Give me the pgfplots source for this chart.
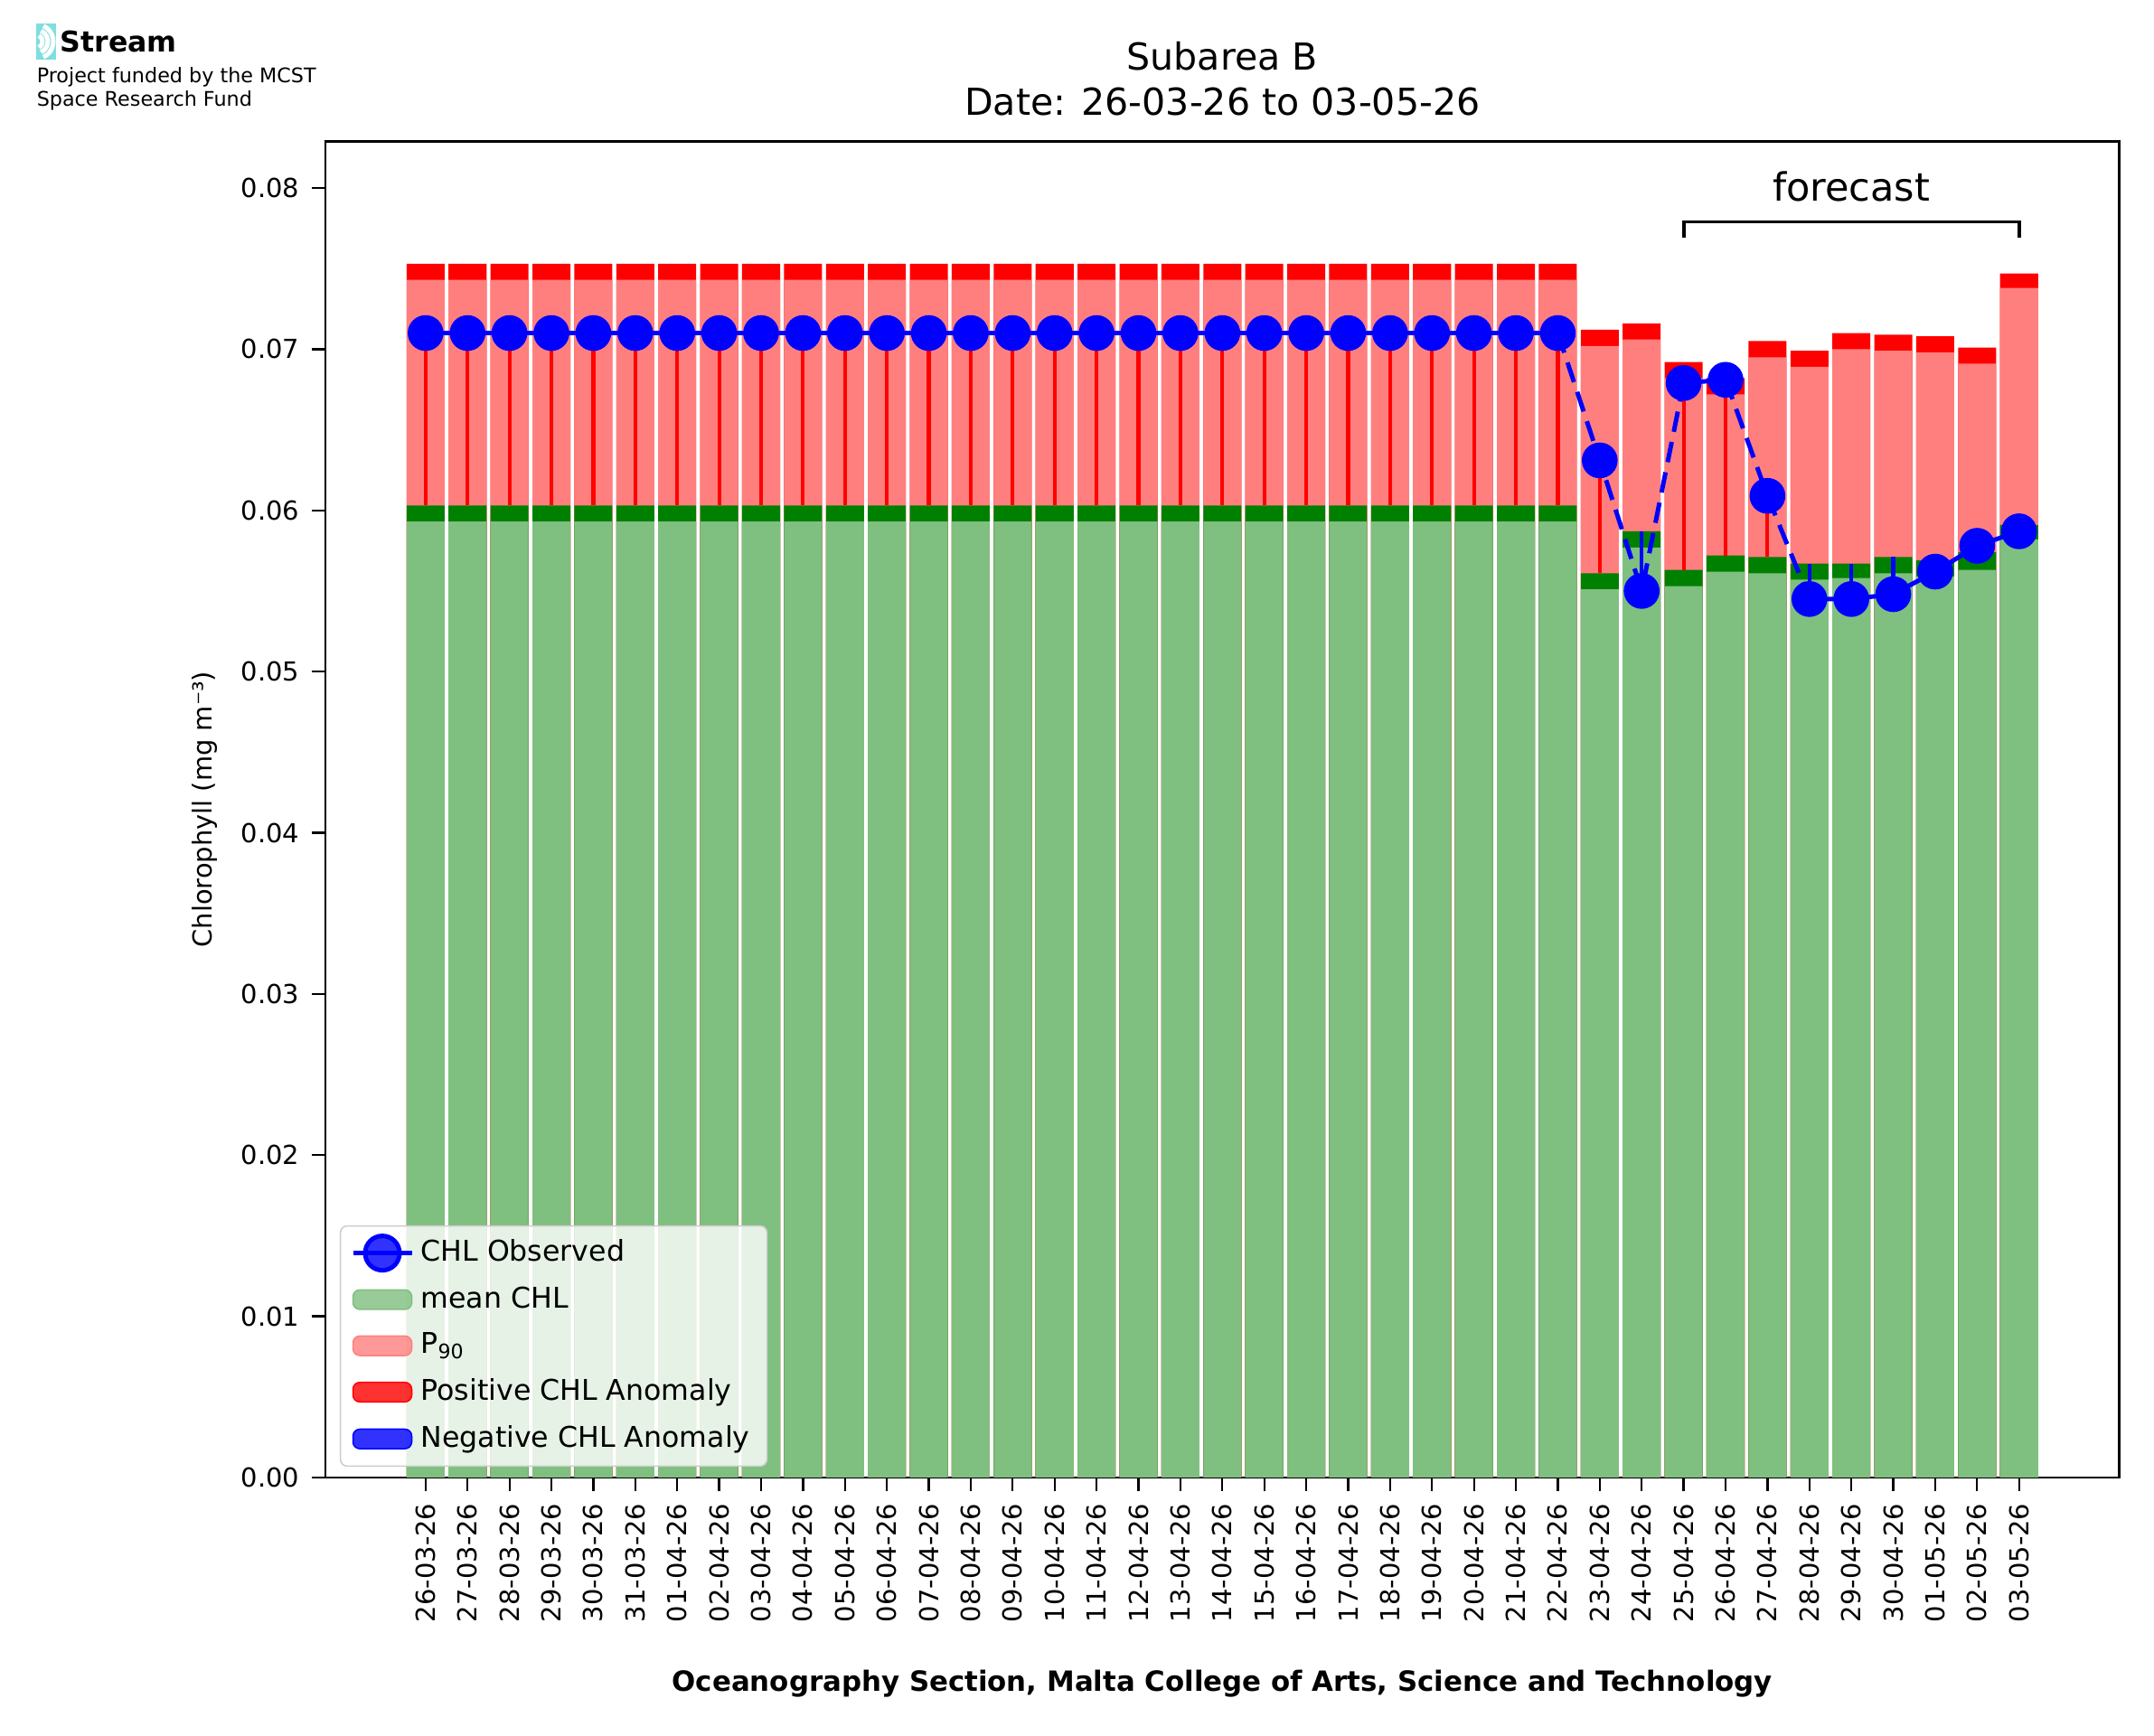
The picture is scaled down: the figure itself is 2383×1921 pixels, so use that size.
\documentclass[border=0pt]{standalone}
\usepackage{pgfplots}
\usepackage{pgfplotstable}
\pgfplotsset{compat=1.18}
\usepackage{fontspec}
\setmainfont{DejaVu Sans}
\definecolor{lgreen}{RGB}{127,191,127}
\definecolor{dgreen}{RGB}{0,128,0}
\definecolor{pink}{RGB}{255,127,127}
\definecolor{logo}{RGB}{128,222,222}
\pgfplotstableread{
x lg dg pk rd obs rp bm
0 0.0593 0.0603 0.0743 0.0753 0.0710 0.0107 0
1 0.0593 0.0603 0.0743 0.0753 0.0710 0.0107 0
2 0.0593 0.0603 0.0743 0.0753 0.0710 0.0107 0
3 0.0593 0.0603 0.0743 0.0753 0.0710 0.0107 0
4 0.0593 0.0603 0.0743 0.0753 0.0710 0.0107 0
5 0.0593 0.0603 0.0743 0.0753 0.0710 0.0107 0
6 0.0593 0.0603 0.0743 0.0753 0.0710 0.0107 0
7 0.0593 0.0603 0.0743 0.0753 0.0710 0.0107 0
8 0.0593 0.0603 0.0743 0.0753 0.0710 0.0107 0
9 0.0593 0.0603 0.0743 0.0753 0.0710 0.0107 0
10 0.0593 0.0603 0.0743 0.0753 0.0710 0.0107 0
11 0.0593 0.0603 0.0743 0.0753 0.0710 0.0107 0
12 0.0593 0.0603 0.0743 0.0753 0.0710 0.0107 0
13 0.0593 0.0603 0.0743 0.0753 0.0710 0.0107 0
14 0.0593 0.0603 0.0743 0.0753 0.0710 0.0107 0
15 0.0593 0.0603 0.0743 0.0753 0.0710 0.0107 0
16 0.0593 0.0603 0.0743 0.0753 0.0710 0.0107 0
17 0.0593 0.0603 0.0743 0.0753 0.0710 0.0107 0
18 0.0593 0.0603 0.0743 0.0753 0.0710 0.0107 0
19 0.0593 0.0603 0.0743 0.0753 0.0710 0.0107 0
20 0.0593 0.0603 0.0743 0.0753 0.0710 0.0107 0
21 0.0593 0.0603 0.0743 0.0753 0.0710 0.0107 0
22 0.0593 0.0603 0.0743 0.0753 0.0710 0.0107 0
23 0.0593 0.0603 0.0743 0.0753 0.0710 0.0107 0
24 0.0593 0.0603 0.0743 0.0753 0.0710 0.0107 0
25 0.0593 0.0603 0.0743 0.0753 0.0710 0.0107 0
26 0.0593 0.0603 0.0743 0.0753 0.0710 0.0107 0
27 0.0593 0.0603 0.0743 0.0753 0.0710 0.0107 0
28 0.0551 0.0561 0.0702 0.0712 0.0631 0.0070 0
29 0.0577 0.0587 0.0706 0.0716 0.0550 0 0.0037
30 0.0553 0.0563 0.0682 0.0692 0.0679 0.0116 0
31 0.0562 0.0572 0.0672 0.0682 0.0681 0.0109 0
32 0.0561 0.0571 0.0695 0.0705 0.0609 0.0038 0
33 0.0557 0.0567 0.0689 0.0699 0.0545 0 0.0022
34 0.0558 0.0567 0.0700 0.0710 0.0545 0 0.0022
35 0.0561 0.0571 0.0699 0.0709 0.0548 0 0.0023
36 0.0559 0.0569 0.0698 0.0708 0.0562 0 0.0007
37 0.0563 0.0574 0.0691 0.0701 0.0578 0.0004 0
38 0.0582 0.0591 0.0738 0.0747 0.0587 0 0.0004
}\data
\pgfplotstableread{
x obs
0 0.0710
27 0.0710
}\segA
\pgfplotstableread{
x obs
27 0.0710
28 0.0631
29 0.0550
30 0.0679
}\segB
\pgfplotstableread{
x obs
30 0.0679
31 0.0681
}\segC
\pgfplotstableread{
x obs
31 0.0681
32 0.0609
33 0.0545
}\segD
\pgfplotstableread{
x obs
33 0.0545
34 0.0545
35 0.0548
36 0.0562
37 0.0578
38 0.0587
}\segE
\begin{document}
\begin{tikzpicture}[x=0.009232cm,y=0.009232cm]
\path[use as bounding box] (-360,-286) rectangle (2023,1635);
\begin{axis}[
  at={(0,0)}, anchor=south west, scale only axis,
  width=18.32cm, height=13.65cm,
  xmin=-2.39, xmax=40.39, ymin=0, ymax=0.0829,
  xtick={0,...,38},
  xticklabels={26-03-26,27-03-26,28-03-26,29-03-26,30-03-26,31-03-26,01-04-26,02-04-26,03-04-26,04-04-26,05-04-26,06-04-26,07-04-26,08-04-26,09-04-26,10-04-26,11-04-26,12-04-26,13-04-26,14-04-26,15-04-26,16-04-26,17-04-26,18-04-26,19-04-26,20-04-26,21-04-26,22-04-26,23-04-26,24-04-26,25-04-26,26-04-26,27-04-26,28-04-26,29-04-26,30-04-26,01-05-26,02-05-26,03-05-26},
  xticklabel style={rotate=90, anchor=east, font=\fontsize{7.6}{9}\selectfont},
  ytick={0,0.01,...,0.08},
  yticklabel style={font=\fontsize{7.6}{9}\selectfont, /pgf/number format/fixed, /pgf/number format/fixed zerofill, /pgf/number format/precision=2},
  /pgf/number format/assume math mode=true,
  scaled y ticks=false,
  tick align=outside, tick style={black, line width=0.6pt},
  major tick length=4pt,
  xtick pos=bottom, ytick pos=left,
  axis line style={line width=0.7pt},
  ylabel={Chlorophyll (mg m⁻³)},
  ylabel style={font=\fontsize{7.6}{9}\selectfont},
  xlabel={\textbf{Oceanography Section, Malta College of Arts, Science and Technology}},
  xlabel style={font=\fontsize{8.1}{10}\selectfont, yshift=-0.25cm},
  title={Subarea B\\Date: 26-03-26 to 03-05-26},
  title style={align=center, font=\fontsize{10.8}{13}\selectfont, yshift=-2pt},
  legend style={at={(0.008,0.008)}, anchor=south west, font=\fontsize{8.3}{10}\selectfont, fill=white, fill opacity=0.8, text opacity=1, draw=gray!40, rounded corners=2pt, row sep=1.8pt},
  legend cell align=left,
  clip=false,
]
\addlegendimage{blue, line width=1.3pt, mark=*, mark size=5pt}
\addlegendentry{CHL Observed}
\addlegendimage{legend image code/.code={\fill[lgreen] (0cm,-0.1cm) rectangle (0.6cm,0.1cm);}}
\addlegendentry{mean CHL}
\addlegendimage{legend image code/.code={\fill[pink] (0cm,-0.1cm) rectangle (0.6cm,0.1cm);}}
\addlegendentry{P\textsubscript{90}}
\addlegendimage{legend image code/.code={\fill[red] (0cm,-0.1cm) rectangle (0.6cm,0.1cm);}}
\addlegendentry{Positive CHL Anomaly}
\addlegendimage{legend image code/.code={\fill[blue] (0cm,-0.1cm) rectangle (0.6cm,0.1cm);}}
\addlegendentry{Negative CHL Anomaly}
\addplot[ybar, bar width=0.906, bar shift=0pt, fill=red, draw=none, forget plot] table[x=x,y=rd]{\data};
\addplot[ybar, bar width=0.906, bar shift=0pt, fill=pink, draw=none, forget plot] table[x=x,y=pk]{\data};
\addplot[ybar, bar width=0.906, bar shift=0pt, fill=dgreen, draw=none, forget plot] table[x=x,y=dg]{\data};
\addplot[ybar, bar width=0.906, bar shift=0pt, fill=lgreen, draw=none, forget plot] table[x=x,y=lg]{\data};
\addplot[draw=none, mark=none, forget plot, error bars/.cd, y dir=plus, y explicit, error mark=none, error bar style={red, line width=1.1pt}] table[x=x,y=dg,y error plus=rp]{\data};
\addplot[draw=none, mark=none, forget plot, error bars/.cd, y dir=minus, y explicit, error mark=none, error bar style={blue, line width=1.1pt}] table[x=x,y=dg,y error minus=bm]{\data};
\addplot[blue, line width=1.3pt, mark=none, forget plot] table[x=x,y=obs]{\segA};
\addplot[blue, line width=1.3pt, dash pattern=on 6pt off 3pt, mark=none, forget plot] table[x=x,y=obs]{\segB};
\addplot[blue, line width=1.3pt, mark=none, forget plot] table[x=x,y=obs]{\segC};
\addplot[blue, line width=1.3pt, dash pattern=on 6pt off 3pt, mark=none, forget plot] table[x=x,y=obs]{\segD};
\addplot[blue, line width=1.3pt, mark=none, forget plot] table[x=x,y=obs]{\segE};
\addplot[only marks, mark=*, mark size=5pt, blue, forget plot] table[x=x,y=obs]{\data};
\draw[line width=1pt] (axis cs:30,0.0769) -- (axis cs:30,0.0779) -- (axis cs:38,0.0779) -- (axis cs:38,0.0769);
\node[anchor=south, font=\fontsize{11.3}{14}\selectfont] at (axis cs:34,0.0784) {forecast};
\end{axis}
% logo
\begin{scope}[shift={(-360,1635)}]
\fill[logo] (40,-26) rectangle (62,-66);
\foreach \r in {7,13,19}{\draw[white, line width=1.3pt] (40,-46) ++(-65:\r) arc(-65:65:\r);}
\node[anchor=west, font=\bfseries\fontsize{8.3}{10}\selectfont, inner sep=0] at (66,-46) {Stream};
\node[anchor=north west, align=left, font=\fontsize{5.85}{6.9}\selectfont, inner sep=0] at (40,-74) {Project funded by the MCST\\Space Research Fund};
\end{scope}
\end{tikzpicture}
\end{document}
